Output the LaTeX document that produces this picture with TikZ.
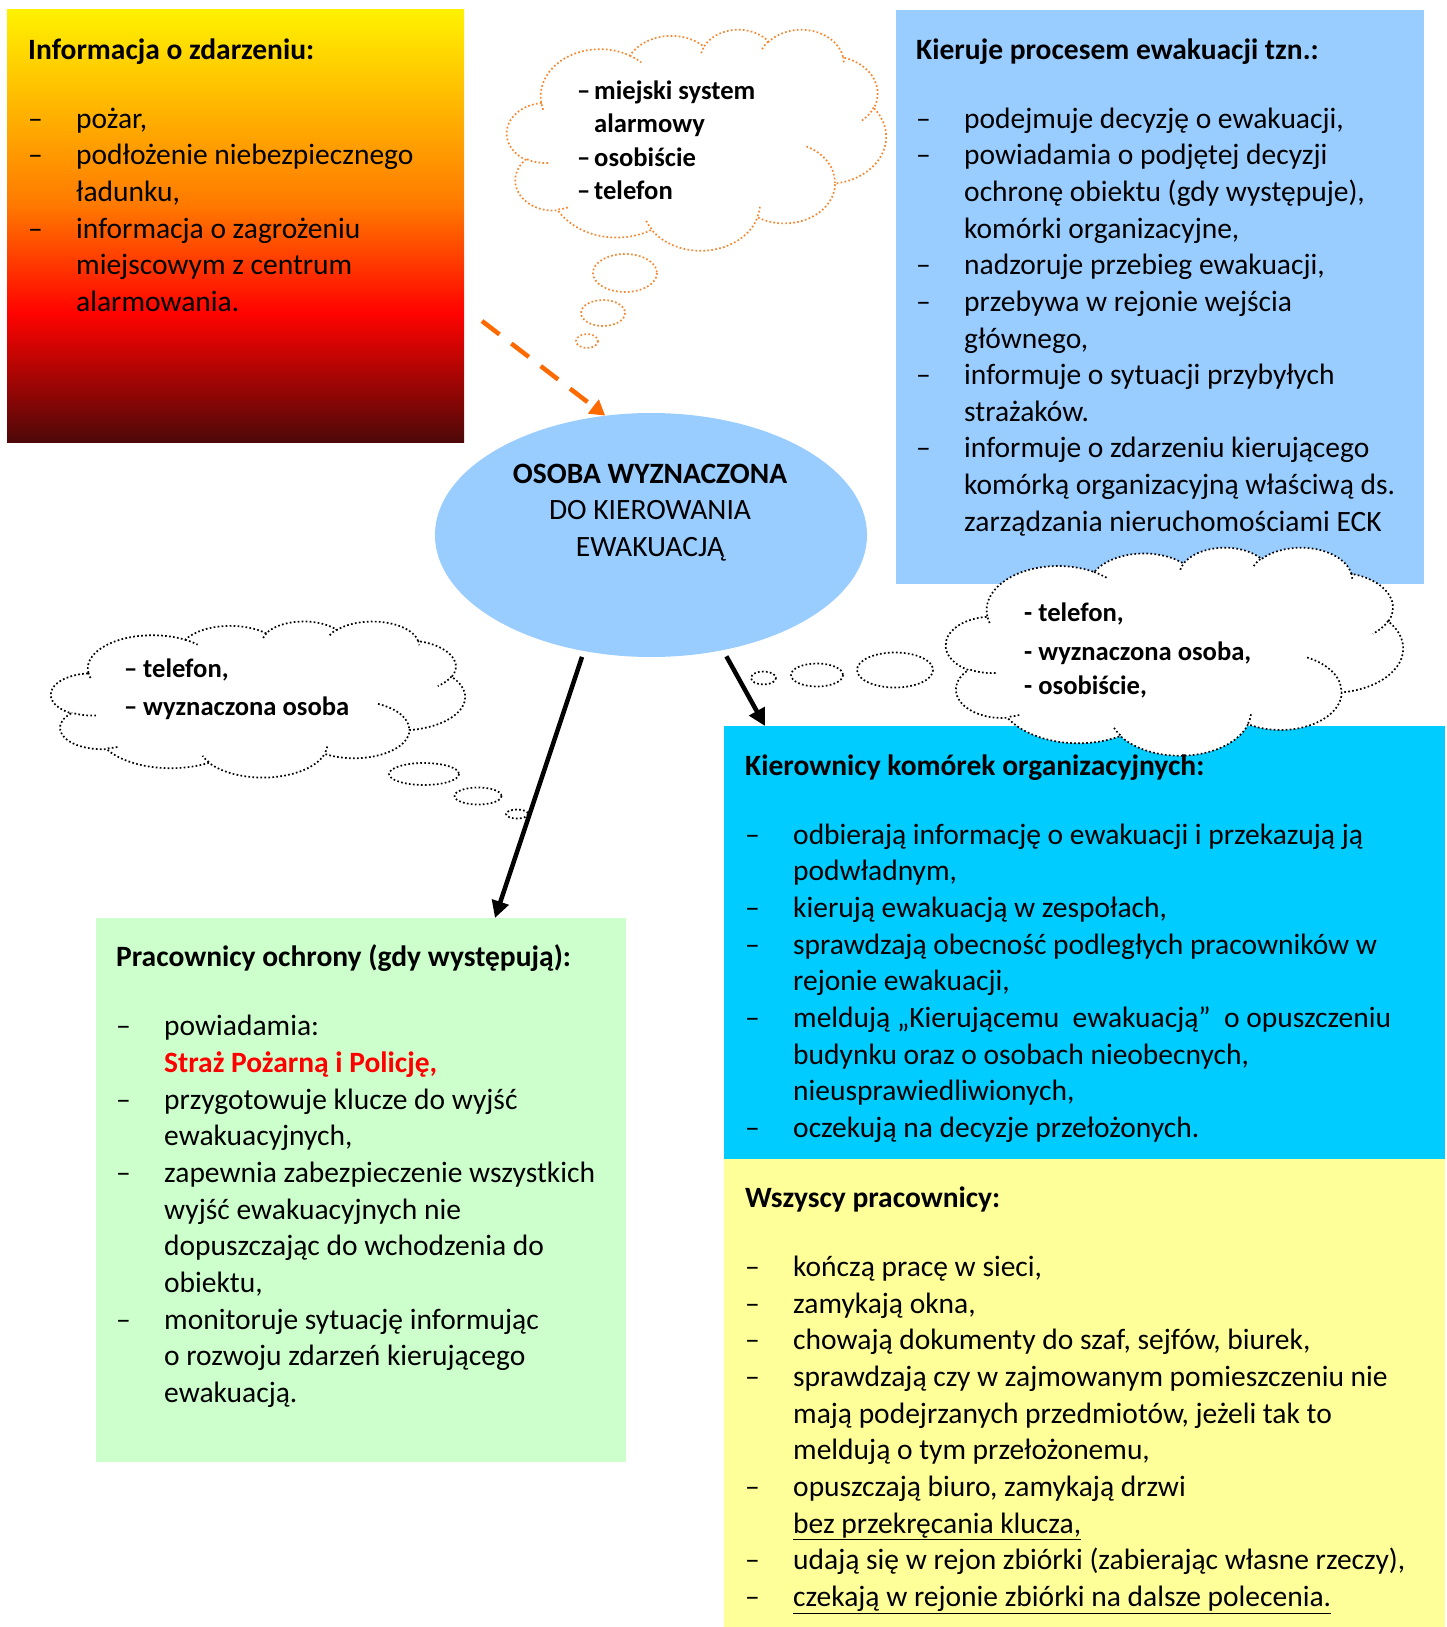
\documentclass[tikz,border=0pt]{standalone}
\usepackage{fontspec}
\setmainfont{Carlito}
\usetikzlibrary{arrows.meta,shapes.geometric}

\definecolor{skyblue}{HTML}{99CCFF}
\definecolor{cyanbox}{HTML}{00CCFF}
\definecolor{yelbox}{HTML}{FFFF99}
\definecolor{grnbox}{HTML}{CCFFCC}
\definecolor{fireY}{HTML}{FFF200}
\definecolor{fireO}{HTML}{FF7A00}
\definecolor{fireR}{HTML}{FF0300}
\definecolor{fireD}{HTML}{4D0808}
\definecolor{arrorange}{HTML}{FF6A00}
\definecolor{cloudorange}{HTML}{F7862E}

\pgfdeclareverticalshading{fire}{100bp}{color(0bp)=(fireD); color(25bp)=(fireD); color(40bp)=(fireR); color(52.5bp)=(fireO); color(75bp)=(fireY); color(100bp)=(fireY)}

\newcommand\bodyfont{\fontsize{29.5}{36.65}\selectfont}
\newcommand\cloudfont{\fontsize{26.6}{33.3}\selectfont\bfseries}

% ---- Word-like cloud outline (43200 units / 100) ----
\gdef\cpathout{}
\gdef\cpathdet{}
\newcommand\cloudarc[5]{%
  \pgfmathsetmacro\cta{atan2((#2)*sin(#4),(#3)*cos(#4))}%
  \pgfmathsetmacro\ctb{atan2((#2)*sin((#4)+(#5)),(#3)*cos((#4)+(#5)))}%
  \pgfmathsetmacro\ctd{(#5)>0 ? Mod(\ctb-\cta,360) : -Mod(\cta-\ctb,360)}%
  \xdef#1{#1 arc[start angle=\cta, delta angle=\ctd, x radius=#2, y radius=#3]}%
}
\cloudarc\cpathout{67.53}{91.90}{-190.48748}{123.78053}
\cloudarc\cpathout{53.33}{72.67}{-144.10238}{89.94523}
\cloudarc\cpathout{43.65}{59.45}{-145.80792}{99.72302}
\cloudarc\cpathout{48.57}{65.95}{-130.98607}{117.24173}
\cloudarc\cpathout{53.33}{72.73}{-78.70888}{109.02692}
\cloudarc\cpathout{67.75}{92.20}{-46.26725}{130.269}
\cloudarc\cpathout{57.85}{78.67}{0.62502}{114.03333}
\cloudarc\cpathout{67.52}{92.15}{22.4516}{115.17255}
\cloudarc\cpathout{77.20}{105.43}{66.24263}{75.71102}
\cloudarc\cpathout{43.60}{59.18}{-274.94208}{146.73557}
\cloudarc\cpathout{43.45}{59.45}{-246.8285}{152.51885}

\xdef\cpathdet{\cpathdet (46.93,261.77)}\cloudarc\cpathdet{43.45}{59.45}{86.742}{26.4295}
\xdef\cpathdet{\cpathdet (69.28,348.99)}\cloudarc\cpathdet{43.60}{59.18}{73.61047}{11.44747}
\xdef\cpathdet{\cpathdet (164.78,390.90)}\cloudarc\cpathdet{67.52}{92.15}{137.62415}{14.0811}
\xdef\cpathdet{\cpathdet (288.27,347.51)}\cloudarc\cpathdet{67.52}{92.15}{6.45327}{15.99835}
\xdef\cpathdet{\cpathdet (341.29,229.54)}\cloudarc\cpathdet{57.85}{78.67}{-70.29235}{70.91737}
\xdef\cpathdet{\cpathdet (417.98,153.54)}\cloudarc\cpathdet{53.33}{72.73}{30.31803}{27.7515}
\xdef\cpathdet{\cpathdet (383.24,54.26)}\cloudarc\cpathdet{48.57}{65.95}{-13.74433}{14.8589}
\xdef\cpathdet{\cpathdet (290.78,39.52)}\cloudarc\cpathdet{48.57}{65.95}{-149.18145}{18.19537}
\xdef\cpathdet{\cpathdet (221.41,47.20)}\cloudarc\cpathdet{43.65}{59.45}{-163.49427}{17.68635}
\xdef\cpathdet{\cpathdet (140.00,51.92)}\cloudarc\cpathdet{67.53}{91.90}{-66.70695}{12.31935}
\xdef\cpathdet{\cpathdet (41.27,157.89)}\cloudarc\cpathdet{67.53}{91.90}{157.65435}{11.85817}

\newcommand\drawcloud[5]{%
  \pgfmathsetmacro\cxu{#3/432}%
  \pgfmathsetmacro\cyu{#4/432}%
  \begin{scope}[shift={(#1,#2)}, x=\cxu pt, y=-\cyu pt]
    \filldraw[cloudline, draw=#5, fill=white] (39.00,143.70) \cpathout -- cycle;
    \draw[cloudline, draw=#5] \cpathdet;
  \end{scope}}

\begin{document}
\begin{tikzpicture}[x=1pt,y=-1pt,
  box/.style={rectangle, draw=none, inner sep=0pt, anchor=north west},
  txt/.style={anchor=north west, inner sep=0pt, font=\bodyfont},
  ctxt/.style={anchor=north west, inner sep=0pt, font=\cloudfont},
  cloudline/.style={line width=1.7pt, dash pattern=on 1.7pt off 2.3pt},
  blackarr/.style={line width=4.5pt, -{Triangle[length=17pt, width=17pt]}},
  orangearr/.style={line width=4.5pt, draw=arrorange, dash pattern=on 22pt off 15pt,
     -{Triangle[length=15pt, width=17pt, fill=arrorange]}}]
\useasboundingbox (0,0) rectangle (1447,1627);
\fill[white] (0,0) rectangle (1447,1627);

% boxes
\node[box, shading=fire, minimum width=457pt, minimum height=433pt] (info) at (7,9) {};
\node[box, fill=skyblue, minimum width=528pt, minimum height=574pt] (kier) at (896,10) {};
\node[box, fill=cyanbox, minimum width=721pt, minimum height=433pt] (kom) at (724,726) {};
\node[box, fill=yelbox, minimum width=721pt, minimum height=468pt] (wszy) at (724,1159) {};
\node[box, fill=grnbox, minimum width=530pt, minimum height=544pt] (ochr) at (96,918) {};
\node[ellipse, fill=skyblue, minimum width=432pt, minimum height=244pt, inner sep=0pt] (osoba) at (651,535) {};

% clouds
\drawcloud{507}{29}{379}{221}{cloudorange}
\draw[cloudline, draw=cloudorange, fill=white] (625,273) ellipse[x radius=32, y radius=19];
\draw[cloudline, draw=cloudorange, fill=white] (603,313) ellipse[x radius=22, y radius=13];
\draw[cloudline, draw=cloudorange, fill=white] (587,341) ellipse[x radius=11, y radius=7];

\drawcloud{51}{621}{414}{156}{black}
\draw[cloudline, fill=white] (424,774) ellipse[x radius=35, y radius=11];
\draw[cloudline, fill=white] (478,796) ellipse[x radius=23.5, y radius=8.5];
\draw[cloudline, fill=white] (517,814) ellipse[x radius=11, y radius=4.5];

\drawcloud{946}{547}{457}{208}{black}
\draw[cloudline, fill=white] (895,670) ellipse[x radius=38, y radius=17.5];
\draw[cloudline, fill=white] (817,675) ellipse[x radius=26, y radius=11.5];
\draw[cloudline, fill=white] (763.5,678) ellipse[x radius=12.5, y radius=6.5];

% texts
\node[txt] (infot) at (28,33.2) {\begin{tabular}{@{}p{48pt}@{}l@{}}
\multicolumn{2}{@{}l@{}}{\textbf{Informacja o zdarzeniu:}}\\[32.4pt]
– & pożar,\\
– & podłożenie niebezpiecznego\\
  & ładunku,\\
– & informacja o zagrożeniu\\
  & miejscowym z centrum\\
  & alarmowania.
\end{tabular}};

\node[txt] (kiert) at (916,33.2) {\begin{tabular}{@{}p{48pt}@{}l@{}}
\multicolumn{2}{@{}l@{}}{\textbf{Kieruje procesem ewakuacji tzn.:}}\\[32.4pt]
– & podejmuje decyzję o ewakuacji,\\
– & powiadamia o podjętej decyzji\\
  & ochronę obiektu (gdy występuje),\\
  & komórki organizacyjne,\\
– & nadzoruje przebieg ewakuacji,\\
– & przebywa w rejonie wejścia\\
  & głównego,\\
– & informuje o sytuacji przybyłych\\
  & strażaków.\\
– & informuje o zdarzeniu kierującego\\
  & komórką organizacyjną właściwą ds.\\
  & zarządzania nieruchomościami ECK
\end{tabular}};

\node[txt] (ochrt) at (116,941) {\begin{tabular}{@{}p{48pt}@{}l@{}}
\multicolumn{2}{@{}l@{}}{\textbf{Pracownicy ochrony (gdy występują):}}\\[32.4pt]
– & powiadamia:\\
  & {\color{red}\textbf{Straż Pożarną i Policję,}}\\
– & przygotowuje klucze do wyjść\\
  & ewakuacyjnych,\\
– & zapewnia zabezpieczenie wszystkich\\
  & wyjść ewakuacyjnych nie\\
  & dopuszczając do wchodzenia do\\
  & obiektu,\\
– & monitoruje sytuację informując\\
  & o rozwoju zdarzeń kierującego\\
  & ewakuacją.
\end{tabular}};

\node[txt] (komt) at (745,749.2) {\begin{tabular}{@{}p{48pt}@{}l@{}}
\multicolumn{2}{@{}l@{}}{\textbf{Kierownicy komórek organizacyjnych:}}\\[32.4pt]
– & odbierają informację o ewakuacji i przekazują ją\\
  & podwładnym,\\
– & kierują ewakuacją w zespołach,\\
– & sprawdzają obecność podległych pracowników w\\
  & rejonie ewakuacji,\\
– & meldują „Kierującemu\ \ ewakuacją”\ \ o opuszczeniu\\
  & budynku oraz o osobach nieobecnych,\\
  & nieusprawiedliwionych,\\
– & oczekują na decyzje przełożonych.
\end{tabular}};

\node[txt] (wszyt) at (745,1181.6) {\begin{tabular}{@{}p{48pt}@{}l@{}}
\multicolumn{2}{@{}l@{}}{\textbf{Wszyscy pracownicy:}}\\[32.4pt]
– & kończą pracę w sieci,\\
– & zamykają okna,\\
– & chowają dokumenty do szaf, sejfów, biurek,\\
– & sprawdzają czy w zajmowanym pomieszczeniu nie\\
  & mają podejrzanych przedmiotów, jeżeli tak to\\
  & meldują o tym przełożonemu,\\
– & opuszczają biuro, zamykają drzwi\\
  & \underline{bez przekręcania klucza,}\\
– & udają się w rejon zbiórki (zabierając własne rzeczy),\\
– & \underline{czekają w rejonie zbiórki na dalsze polecenia.}
\end{tabular}};

\node[anchor=north, inner sep=0pt, font=\bodyfont] (osobat) at (650,457.4) {\begin{tabular}{@{}c@{}}
\textbf{OSOBA WYZNACZONA}\\
DO KIEROWANIA\\
EWAKUACJĄ
\end{tabular}};

\node[ctxt] (c1t) at (577,75.9) {\begin{tabular}{@{}p{17pt}@{}l@{}}
– & miejski system\\
  & alarmowy\\
– & osobiście\\
– & telefon
\end{tabular}};

\node[ctxt] (c2t) at (124,653.9) {\begin{tabular}{@{}p{19pt}@{}l@{}}
– & telefon,\\[5pt]
– & wyznaczona osoba
\end{tabular}};

\node[ctxt] (c3t) at (1024,597.9) {\begin{tabular}{@{}l@{}}
- telefon,\\[5.7pt]
- wyznaczona osoba,\\[0.7pt]
- osobiście,
\end{tabular}};

% arrows
\coordinate (ostart) at (482,321);
\coordinate (gtip) at (495,918);
\coordinate (ctip) at (765,726);
\draw[orangearr] (ostart) -- (osoba.111);
\draw[blackarr, shorten <=6pt] (osoba.240) -- (gtip);
\draw[blackarr, shorten <=7pt] (osoba.302) -- (ctip);
\end{tikzpicture}
\end{document}
